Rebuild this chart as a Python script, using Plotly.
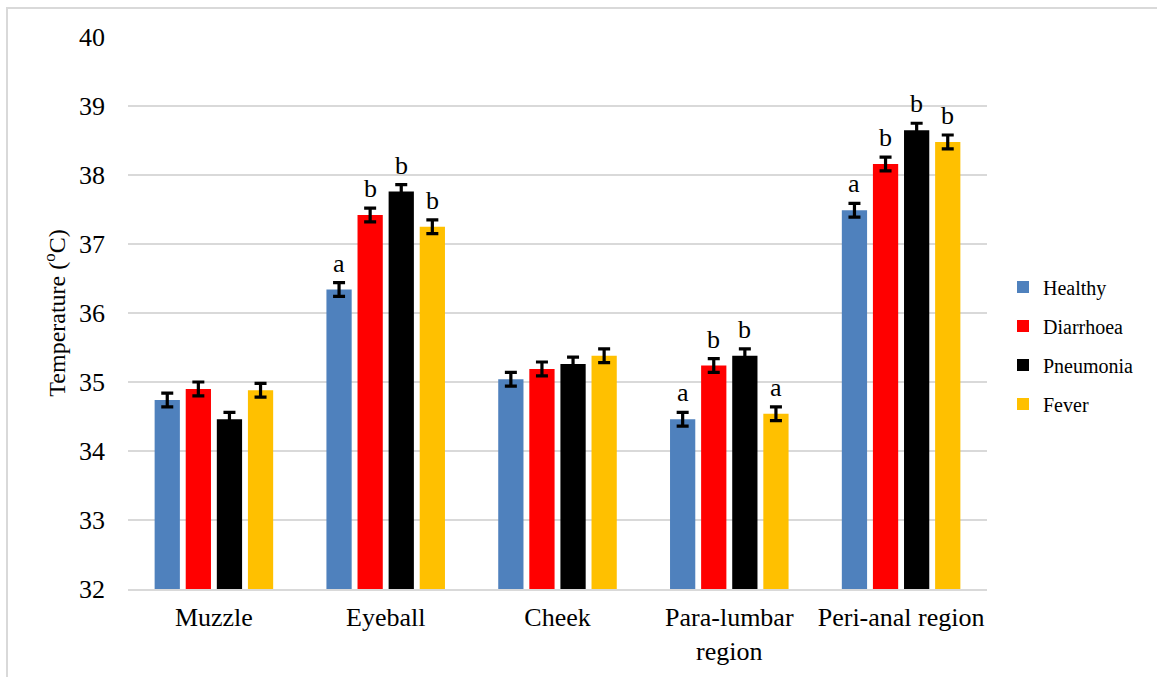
import plotly.graph_objects as go

# Body regions and mean surface temperatures (°C) per group
regions = ["Muzzle", "Eyeball", "Cheek", "Para-lumbar<br>region", "Peri-anal region"]
groups = ["Healthy", "Diarrhoea", "Pneumonia", "Fever"]

healthy = [34.74, 36.34, 35.04, 34.46, 37.49]
diarrhoea = [34.90, 37.42, 35.19, 35.24, 38.16]
pneumonia = [34.46, 37.76, 35.26, 35.38, 38.65]
fever = [34.88, 37.25, 35.38, 34.54, 38.48]

# Standard error of the mean
sem = [0.1, 0.1, 0.1, 0.1, 0.1]

# Significance letters (empty = no letter shown)
letters_healthy = ["", "a", "", "a", "a"]
letters_diarrhoea = ["", "b", "", "b", "b"]
letters_pneumonia = ["", "b", "", "b", "b"]
letters_fever = ["", "b", "", "a", "b"]

colors = ["#4F81BD", "#FF0000", "#000000", "#FFC000"]
series = [healthy, diarrhoea, pneumonia, fever]
letters = [letters_healthy, letters_diarrhoea, letters_pneumonia, letters_fever]

FONT = "Liberation Serif"
slot = 0.181
bar_w = 0.147
start = -(len(groups) * slot - (slot - bar_w)) / 2
xpos = list(range(len(regions)))

fig = go.Figure()
annotations = []
for k, (name, vals, col, lets) in enumerate(zip(groups, series, colors, letters)):
    off = start + k * slot
    fig.add_trace(go.Bar(
        name=name, x=xpos, y=vals,
        width=bar_w, offset=off,
        marker=dict(color=col, line=dict(width=0)),
        error_y=dict(type="data", array=sem, visible=True,
                     color="#000000", thickness=3.2, width=6),
        legendgroup=name,
    ))
    for i, (v, e, t) in enumerate(zip(vals, sem, lets)):
        if t:
            annotations.append(dict(
                x=i + off + bar_w / 2, y=v + e, xref="x", yref="y",
                text=t, showarrow=False, yanchor="bottom", yshift=3,
                font=dict(family=FONT, size=26, color="#000000"),
            ))

L, R, T, B = 128, 170, 37, 88
W, H = 1157, 677
pw, ph = W - L - R, H - T - B

fig.update_layout(
    width=W, height=H,
    margin=dict(l=L, r=R, t=T, b=B, pad=0, autoexpand=False),
    paper_bgcolor="white", plot_bgcolor="white",
    barmode="overlay",
    font=dict(family=FONT, size=26, color="#000000"),
    showlegend=True,
    legend=dict(
        x=(1003 - L) / pw, xanchor="left",
        y=(H - B - 345.5) / ph, yanchor="middle",
        font=dict(family=FONT, size=20, color="#000000"),
        tracegroupgap=10, bgcolor="rgba(0,0,0,0)",
    ),
    xaxis=dict(
        range=[-0.5, len(regions) - 0.5], automargin=False,
        tickmode="array", tickvals=xpos, ticktext=regions,
        showgrid=False, zeroline=False,
        showline=True, linecolor="#D9D9D9", linewidth=2,
        ticks="", ticklabelstandoff=4,
        tickfont=dict(family=FONT, size=26, color="#000000"),
    ),
    yaxis=dict(
        range=[32, 40], dtick=1, tick0=32, automargin=False,
        showgrid=True, gridcolor="#D9D9D9", gridwidth=2,
        zeroline=False, showline=False,
        ticks="", ticklabelstandoff=22,
        tickfont=dict(family=FONT, size=26, color="#000000"),
        title=dict(text="Temperature (<sup>o</sup>C)",
                   font=dict(family=FONT, size=24, color="#000000"), standoff=6),
    ),
    annotations=annotations,
    shapes=[dict(
        type="rect", xref="paper", yref="paper", layer="below",
        x0=(7 - L) / pw, x1=(W + 40 - L) / pw,
        y0=(H - B - (H + 40)) / ph, y1=(H - B - 8) / ph,
        line=dict(color="#D9D9D9", width=2), fillcolor="rgba(0,0,0,0)",
    )],
)

fig.write_html("out.html")
